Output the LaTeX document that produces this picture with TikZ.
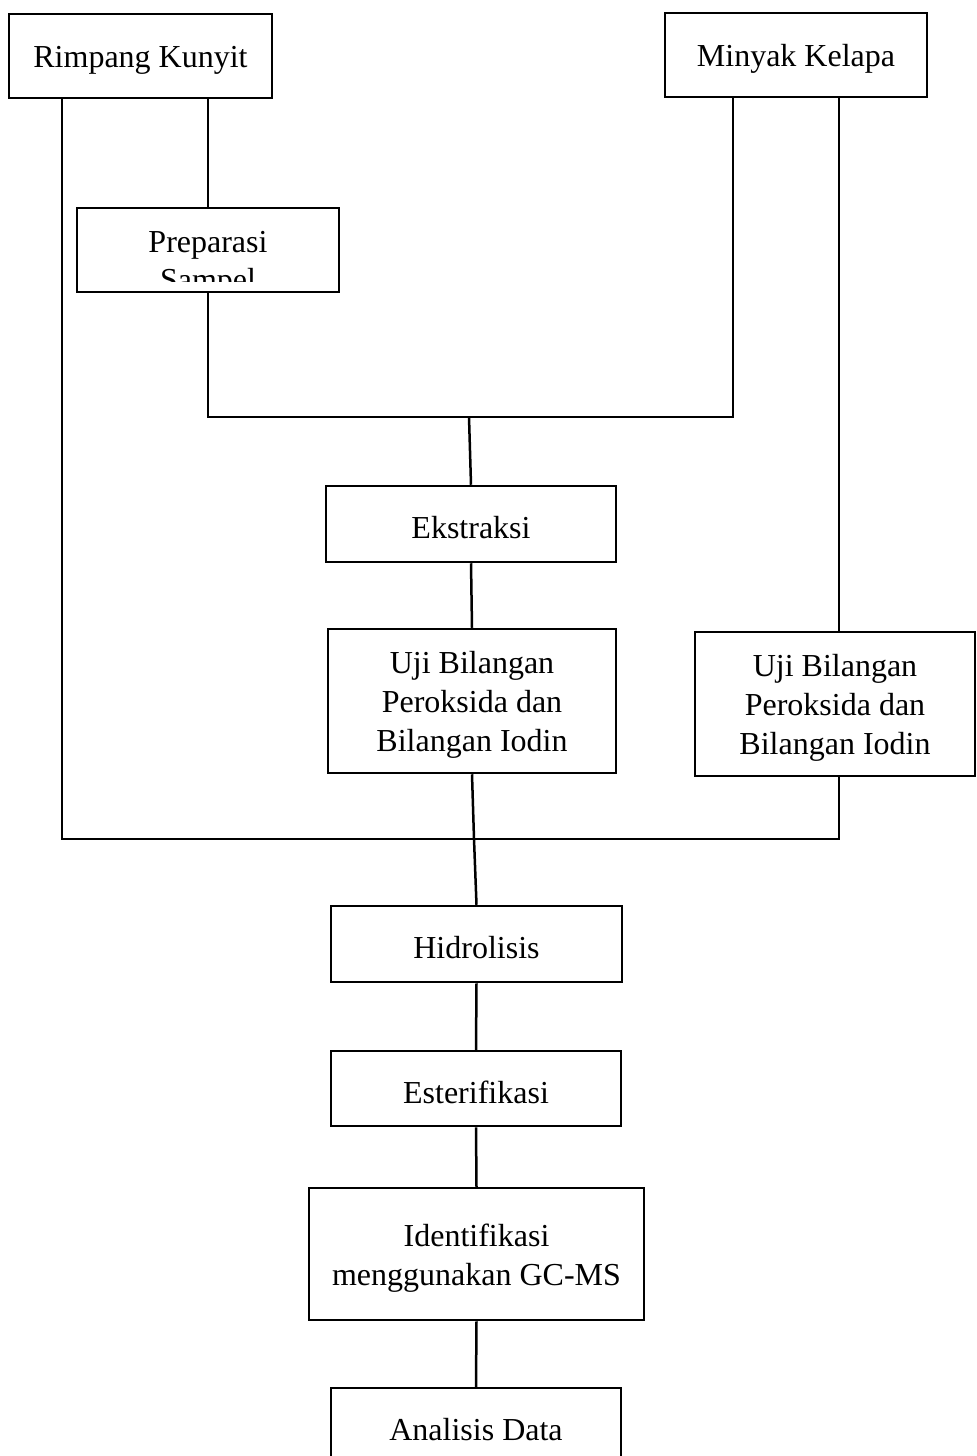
\documentclass[tikz,border=0pt]{standalone}
\usepackage{fontspec}
\setmainfont{Liberation Serif}
\begin{document}
\begin{tikzpicture}[x=0.5pt,y=-0.5pt,
  box/.style={draw, line width=1.25pt, inner sep=0pt, fill=white},
  txt/.style={inner sep=0pt, align=center, yshift=-2pt,
    font=\fontsize{16}{19.5}\selectfont},
  link/.style={line width=1.25pt}]
\useasboundingbox (0,0) rectangle (976,1456);
% boxes
\node[box, minimum width=131.5pt, minimum height=42pt] (rk) at (140.5,56) {};
\node[box, minimum width=131pt, minimum height=42pt] (mk) at (796,55) {};
\node[box, minimum width=131pt, minimum height=42pt] (prep) at (208,250) {};
\node[box, minimum width=145pt, minimum height=38pt] (ekst) at (471,524) {};
\node[box, minimum width=144pt, minimum height=72pt] (uji1) at (472,701) {};
\node[box, minimum width=140pt, minimum height=72pt] (uji2) at (835,704) {};
\node[box, minimum width=145.5pt, minimum height=38pt] (hid) at (476.5,944) {};
\node[box, minimum width=145pt, minimum height=37.5pt] (est) at (476,1088.5) {};
\node[box, minimum width=167.5pt, minimum height=66pt] (ident) at (476.5,1254) {};
\node[box, minimum width=145pt, minimum height=38pt] (anal) at (476,1426) {};
% texts
\node[txt] (rkT) at (rk.center) {Rimpang Kunyit};
\node[txt] (mkT) at (mk.center) {Minyak Kelapa};
\begin{scope}
  \clip (77,208) rectangle (339,281);
  \node[txt, yshift=0pt, anchor=base] (prepA) at (208,248) {Preparasi};
  \node[txt, yshift=0pt, anchor=base] (prepB) at (208,286) {Sampel};
\end{scope}
\node[txt] (ekstT) at (ekst.center) {Ekstraksi};
\node[txt] (uji1T) at (uji1.center) {Uji Bilangan\\Peroksida dan\\Bilangan Iodin};
\node[txt] (uji2T) at (uji2.center) {Uji Bilangan\\Peroksida dan\\Bilangan Iodin};
\node[txt] (hidT) at (hid.center) {Hidrolisis};
\node[txt] (estT) at (est.center) {Esterifikasi};
\node[txt] (identT) at (ident.center) {Identifikasi\\menggunakan GC-MS};
\node[txt] (analT) at (anal.center) {Analisis Data};
% junctions
\coordinate (jA) at (62,839);
\coordinate (jB) at (839,839);
\coordinate (jC) at (208,417);
\coordinate (jD) at (733,417);
\coordinate (jE) at (469,417);
\coordinate (jF) at (474,839);
% connectors
\draw[link] (rk.south -| jA) -- (jA) -- (jB) -- (uji2.south -| jB);
\draw[link] (rk.south -| prep.north) -- (prep.north);
\draw[link] (prep.south) -- (jC) -- (jD) -- (mk.south -| jD);
\draw[link] (jE) -- (ekst.north);
\draw[link] (ekst.south) -- (uji1.north);
\draw[link] (uji1.south) -- (jF) -- (hid.north);
\draw[link] (hid.south) -- (est.north);
\draw[link] (est.south) -- (ident.north);
\draw[link] (ident.south) -- (anal.north);
\draw[link] (mk.south -| jB) -- (uji2.north -| jB);
\end{tikzpicture}
\end{document}
